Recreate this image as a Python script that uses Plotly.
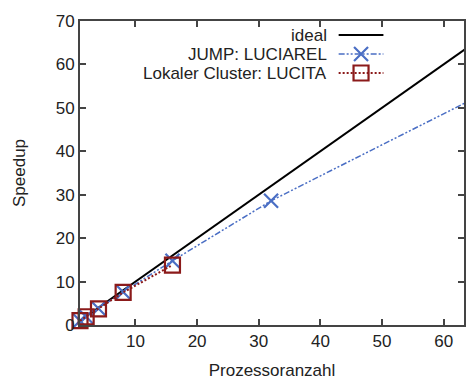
import plotly.graph_objects as go

# Speedup measurements
ideal_x = [1, 64]
ideal_y = [1, 64]

jump_procs = [1, 2, 4, 8, 16, 32, 64]
jump_speedup = [1.0, 1.9, 3.8, 7.6, 14.8, 28.6, 51.5]

lucita_procs = [1, 2, 4, 8, 16]
lucita_speedup = [1.0, 1.9, 3.7, 7.5, 13.8]

x_ticks = [10, 20, 30, 40, 50, 60]
y_ticks = [0, 10, 20, 30, 40, 50, 60, 70]

labels = ["ideal", "JUMP: LUCIAREL", "Lokaler Cluster: LUCITA"]

BLUE = "#4a6ec4"
RED = "#8b1a1a"
AXIS = "#444444"
FONT = "Liberation Sans, Arial, sans-serif"
FS = 17

W, H = 466, 382
ML, MR, MT, MB = 80, 0, 21, 57

jump_line = dict(color=BLUE, width=1.5, dash="6px,2px,2px,2px,2px,2px")
jump_marker = dict(symbol="x-thin-open", size=14, color=BLUE,
                   line=dict(color=BLUE, width=2.2))
lucita_line = dict(color=RED, width=2, dash="2px,2px")
lucita_marker = dict(symbol="square-open", size=15, color=RED,
                     line=dict(color=RED, width=2.2))

fig = go.Figure()

fig.add_trace(go.Scatter(x=ideal_x, y=ideal_y, mode="lines",
                         line=dict(color="black", width=2), showlegend=False))
fig.add_trace(go.Scatter(x=jump_procs, y=jump_speedup, mode="lines+markers",
                         line=jump_line, marker=jump_marker,
                         cliponaxis=False, showlegend=False))
fig.add_trace(go.Scatter(x=lucita_procs, y=lucita_speedup, mode="lines+markers",
                         line=lucita_line, marker=lucita_marker,
                         cliponaxis=False, showlegend=False))

# Key drawn gnuplot-style: text right-aligned, sample to its right.
# Overlay axes measured in figure pixels hold the key samples.
key_rows = [35, 54, 73]
key_text_x = 330
key_x0, key_x1 = 340, 385
styles = [
    (dict(color="black", width=2), None),
    (jump_line, jump_marker),
    (lucita_line, lucita_marker),
]
for row, label, (ln, mk) in zip(key_rows, labels, styles):
    fig.add_trace(go.Scatter(x=[key_x0, key_x1], y=[row, row], mode="lines",
                             line=ln, xaxis="x2", yaxis="y2",
                             showlegend=False, hoverinfo="skip"))
    if mk is not None:
        fig.add_trace(go.Scatter(x=[(key_x0 + key_x1) / 2], y=[row], mode="markers",
                                 marker=mk, xaxis="x2", yaxis="y2",
                                 showlegend=False, hoverinfo="skip", cliponaxis=False))
    fig.add_annotation(x=key_text_x, y=row, xref="x2", yref="y2", text=label,
                       showarrow=False, xanchor="right", yanchor="middle",
                       font=dict(family=FONT, size=FS, color="#222222"))

fig.update_layout(
    width=W, height=H,
    margin=dict(l=ML, r=MR, t=MT, b=MB, pad=0),
    paper_bgcolor="white", plot_bgcolor="white",
    font=dict(family=FONT, size=FS, color="#222222"),
    xaxis=dict(range=[1, 63.3], tickvals=x_ticks, ticks="inside", ticklen=6,
               tickcolor=AXIS, tickwidth=1.5, showgrid=False, zeroline=False,
               showline=True, linecolor=AXIS, linewidth=2, mirror="ticks",
               title=dict(text="Prozessoranzahl", font=dict(size=FS), standoff=14),
               tickfont=dict(size=FS)),
    yaxis=dict(range=[0, 70], tickvals=y_ticks, ticks="inside", ticklen=6,
               tickcolor=AXIS, tickwidth=1.5, showgrid=False, zeroline=False,
               showline=True, linecolor=AXIS, linewidth=2, mirror="ticks",
               title=dict(text="Speedup", font=dict(size=FS), standoff=26),
               tickfont=dict(size=FS)),
    xaxis2=dict(overlaying="x", range=[ML, W], visible=False, domain=[0, 1]),
    yaxis2=dict(overlaying="y", range=[H - MB, MT], visible=False),
)

fig.write_html("out.html")
